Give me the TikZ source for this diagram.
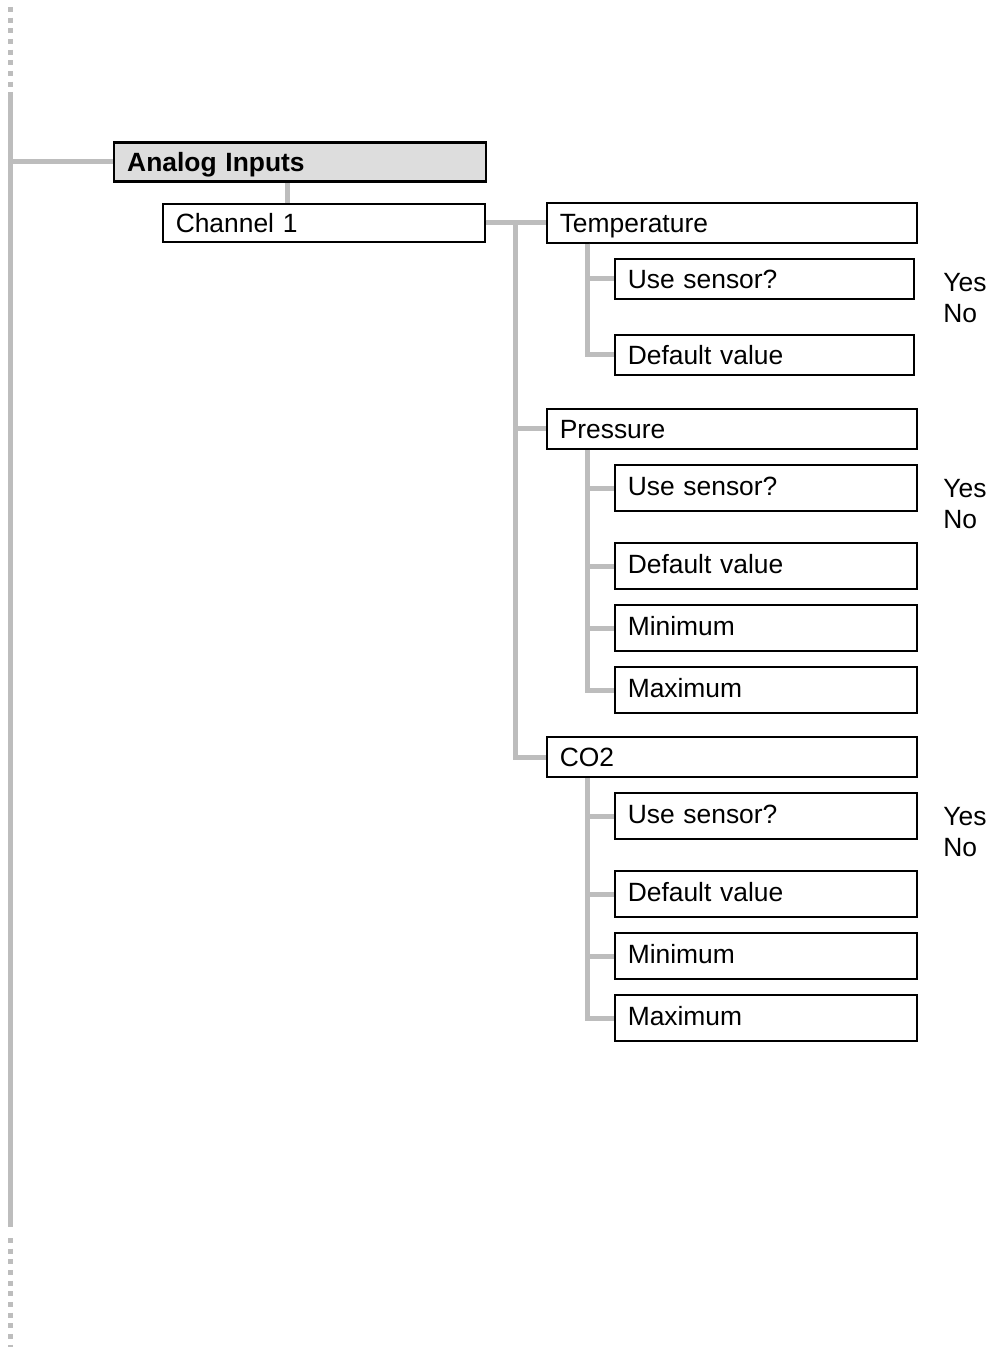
\documentclass[tikz,border=0pt]{standalone}
\usepackage{fontspec}
\setmainfont{Liberation Sans}
\usetikzlibrary{positioning,calc}
\definecolor{linkgray}{HTML}{BDBDBD}
\definecolor{headfill}{HTML}{DDDDDD}

\begin{document}
\begin{tikzpicture}[
  x=0.5pt, y=-0.5pt,
  font=\fontsize{13.2}{15.5}\selectfont,
  menu/.style={draw, line width=0.75pt, anchor=west, align=left, inner xsep=6.5pt, inner ysep=0pt, text height=9.4pt, text depth=0pt},
  head/.style={menu, fill=headfill, line width=1.2pt, font=\fontsize{13.2}{15.5}\selectfont\bfseries, minimum height=19.5pt, text width=173pt},
  chan/.style={menu, minimum height=19pt, text width=148pt},
  meas/.style={menu, minimum height=20pt, text width=172pt},
  opt/.style={menu, minimum height=23pt, text width=138pt, text depth=2pt},
  optsm/.style={menu, minimum height=20pt, text width=136.5pt},
  choice/.style={anchor=west, inner sep=0pt},
  link/.style={draw=linkgray, line width=2.5pt},
  dots/.style={link, dash pattern=on 2.5pt off 2.83pt}
]
\useasboundingbox (0,0) rectangle (993,1347);

% ---------------- left trunk ----------------
\coordinate (trunktop) at (10,7);
\coordinate (trunkA) at (10,92);
\coordinate (trunkB) at (10,1227);
\coordinate (trunkC) at (10,1238);
\coordinate (trunkbot) at (10,1347);
\draw[dots] (trunktop) -- (trunkA);
\draw[link] (trunkA) -- (trunkB);
\draw[dots] (trunkC) -- (trunkbot);

% ---------------- menu head ----------------
\node[head] (analog) at (113,162) {Analog Inputs};
\node[chan] (ch1) at (162,223) {Channel 1};

\draw[link] (analog.west) -- (analog.west -| trunkA);
\draw[link] ($(ch1.north west)+(125,0)$) coordinate (up) -- (up |- analog.south);

% ---------------- measured values ----------------
\node[meas] (temp) at (546,223) {Temperature};
\node[meas] (pres) at (546,429) {Pressure};
\node[meas] (co2) at (546,757) {CO2};

\draw[link] (ch1.east) -- (temp.west);
\coordinate (bus) at ($(ch1.east)!0.5!(temp.west)$);
\draw[link] (bus) |- (pres.west);
\draw[link] (bus) |- (co2.west);

% ---------------- temperature ----------------
\node[optsm] (tuse) at (614,279) {Use sensor?};
\node[optsm] (tdef) at (614,355) {Default value};
\node[choice] (tyes) at (943,283) {Yes};
\node[choice] (tno) at (943,314) {No};

\draw[link] ($(temp.south west)+(41,0)$) coordinate (tbus) |- (tuse.west);
\draw[link] (tbus) |- (tdef.west);

% ---------------- pressure ----------------
\node[opt] (puse) at (614,488) {Use sensor?};
\node[opt] (pdef) at (614,566) {Default value};
\node[opt] (pmin) at (614,628) {Minimum};
\node[opt] (pmax) at (614,690) {Maximum};
\node[choice] (pyes) at (943,489) {Yes};
\node[choice] (pno) at (943,520) {No};

\draw[link] ($(pres.south west)+(41,0)$) coordinate (pbus) |- (pmax.west);
\draw[link] (pbus |- puse.west) -- (puse.west);
\draw[link] (pbus |- pdef.west) -- (pdef.west);
\draw[link] (pbus |- pmin.west) -- (pmin.west);

% ---------------- CO2 ----------------
\node[opt] (cuse) at (614,816) {Use sensor?};
\node[opt] (cdef) at (614,894) {Default value};
\node[opt] (cmin) at (614,956) {Minimum};
\node[opt] (cmax) at (614,1018) {Maximum};
\node[choice] (cyes) at (943,817) {Yes};
\node[choice] (cno) at (943,848) {No};

\draw[link] ($(co2.south west)+(41,0)$) coordinate (cbus) |- (cmax.west);
\draw[link] (cbus |- cuse.west) -- (cuse.west);
\draw[link] (cbus |- cdef.west) -- (cdef.west);
\draw[link] (cbus |- cmin.west) -- (cmin.west);

\end{tikzpicture}
\end{document}
